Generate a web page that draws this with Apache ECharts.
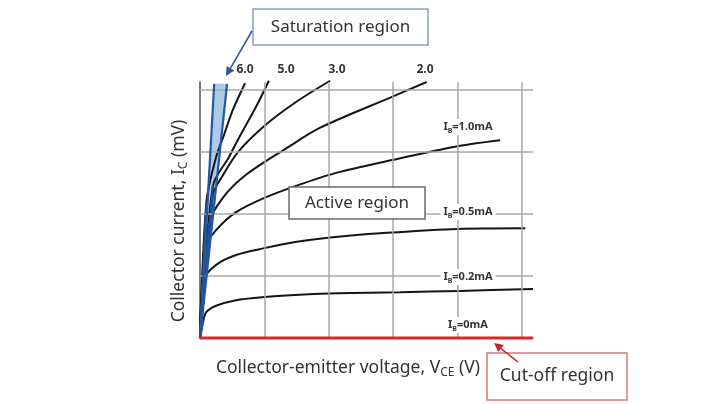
<!DOCTYPE html>
<html><head><meta charset="utf-8">
<script src="https://cdn.jsdelivr.net/npm/echarts@6/dist/echarts.min.js"></script>
<style>html,body{margin:0;padding:0;background:#fff}#c{width:720px;height:404px}</style>
</head><body><div id="c"></div>
<script>
// grid line positions (axis units)
const gridX = [1, 2, 3, 4, 5];
const gridY = [1, 2, 3, 4];
// characteristic curves (VCE, IC)
const ib02 = [[0,0],[0.05,0.28],[0.10,0.42],[0.25,0.52],[0.56,0.61],[1.00,0.66],[1.40,0.69],[2.13,0.72],[3.11,0.74],[4.04,0.76],[5.17,0.79]];
const ib05 = [[0,0],[0.06,0.94],[0.25,1.18],[0.56,1.34],[1.00,1.45],[1.48,1.55],[2.10,1.63],[2.80,1.69],[3.99,1.76],[5.05,1.77]];
const ib10 = [[0,0],[0.09,1.47],[0.25,1.74],[0.56,2.03],[1.00,2.26],[1.48,2.45],[2.10,2.66],[2.98,2.87],[4.04,3.10],[4.66,3.19]];
const ib20 = [[0,0],[0.14,1.85],[0.36,2.27],[0.71,2.63],[1.37,3.08],[1.86,3.39],[2.98,3.89],[3.52,4.13]];
const ib30 = [[0,0],[0.20,2.31],[0.34,2.60],[0.59,3.00],[1.02,3.44],[1.48,3.80],[2.02,4.15]];
const ib50 = [[0,0],[0.20,2.45],[0.45,2.92],[0.61,3.24],[0.87,3.73],[1.07,4.15]];
const ib60 = [[0,0],[0.10,2.20],[0.25,2.92],[0.36,3.24],[0.51,3.68],[0.70,4.11]];
const ib00 = [[0,0],[5.17,0]];
// saturation band edges
const bandLeft = [[0,0],[0.22,4.10]];
const bandRight = [[0,0],[0.42,4.10]];
// labels
const curveNames = ['6.0','5.0','3.0','2.0'];
const ibNames = ['=1.0mA','=0.5mA','=0.2mA','=0mA'];

const chart = echarts.init(document.getElementById('c'));
const FONT = 'Noto Sans';
const curves = [ib02, ib05, ib10, ib20, ib30, ib50, ib60];

const series = [];
series.push({
  type: 'line', data: [[0,0]], symbol: 'none', lineStyle: {width: 0}, silent: true, z: 1,
  markLine: {
    silent: true, symbol: ['none','none'], label: {show: false}, animation: false,
    lineStyle: {color: '#a8a8a8', width: 1.5, type: 'solid'},
    data: gridX.map(v => ({xAxis: v})).concat(gridY.map(v => ({yAxis: v})))
  }
});
series.push({
  type: 'custom', z: 2, silent: true, data: [0],
  renderItem: function (params, api) {
    const pts = [api.coord(bandLeft[0]), api.coord(bandLeft[1]), api.coord(bandRight[1])];
    return {type: 'polygon', shape: {points: pts}, style: {fill: 'rgba(155,194,230,0.85)'}};
  }
});
curves.forEach(c => {
  series.push({type: 'line', data: c, symbol: 'none', smooth: 0.3, clip: false,
    lineStyle: {color: '#151515', width: 2}, z: 3, silent: true});
  series.push({type: 'line', data: c.slice(0, 2), symbol: 'none', clip: false,
    lineStyle: {color: '#1f4e96', width: 2.2}, z: 4, silent: true});
});
[bandLeft, bandRight].forEach(b => series.push({type: 'line', data: b, symbol: 'none', clip: false,
  lineStyle: {color: '#24579e', width: 2.2}, z: 5, silent: true}));
series.push({type: 'line', data: ib00, symbol: 'none', clip: false,
  lineStyle: {color: '#e02424', width: 3}, z: 6, silent: true});

function ibLabel(txt, x, y) {
  return {type: 'text', x: x, y: y, z: 20, style: {
    text: '{a|I}{s|B}{a|' + txt + '}', align: 'center', verticalAlign: 'middle',
    backgroundColor: '#fff', padding: [1, 3],
    rich: {a: {fontFamily: FONT, fontWeight: 'bold', fontSize: 11, fill: '#333', lineHeight: 14},
           s: {fontFamily: FONT, fontWeight: 'bold', fontSize: 7, fill: '#333', lineHeight: 9, verticalAlign: 'bottom'}}
  }};
}
function numLabel(txt, x, y) {
  return {type: 'text', x: x, y: y, z: 20, style: {text: txt, align: 'center', verticalAlign: 'middle',
    fontFamily: FONT, fontWeight: 'bold', fontSize: 12, fill: '#333'}};
}
function box(x, y, w, h, stroke, txt, fs) {
  return [
    {type: 'rect', z: 20, shape: {x: x, y: y, width: w, height: h}, style: {fill: '#fff', stroke: stroke, lineWidth: 1.5}},
    {type: 'text', z: 21, x: x + w / 2, y: y + h / 2, style: {text: txt, align: 'center', verticalAlign: 'middle',
      fontFamily: FONT, fontSize: fs, fill: '#333'}}
  ];
}
function arrow(x1, y1, x2, y2, color) {
  const dx = x2 - x1, dy = y2 - y1, L = Math.hypot(dx, dy);
  const ux = dx / L, uy = dy / L, px = -uy, py = ux, hl = 9, hw = 4.5;
  const bx = x2 - ux * hl, by = y2 - uy * hl;
  return [
    {type: 'line', z: 22, shape: {x1: x1, y1: y1, x2: bx, y2: by}, style: {stroke: color, lineWidth: 1.5}},
    {type: 'polygon', z: 22, shape: {points: [[x2, y2], [bx + px * hw, by + py * hw], [bx - px * hw, by - py * hw]]}, style: {fill: color}}
  ];
}

const graphic = [].concat(
  numLabel(curveNames[0], 245, 70), numLabel(curveNames[1], 286, 70),
  numLabel(curveNames[2], 337, 70), numLabel(curveNames[3], 425, 70),
  ibLabel(ibNames[0], 468, 127), ibLabel(ibNames[1], 468, 212),
  ibLabel(ibNames[2], 468, 277), ibLabel(ibNames[3], 468, 325),
  box(253, 9, 175, 36, '#8aa0b8', 'Saturation region', 17),
  box(289, 187, 136, 32, '#6a6a6a', 'Active region', 17),
  box(487, 353, 140, 47, '#d77a7a', 'Cut-off region', 17.5),
  arrow(252, 31, 226, 76, '#2f5597'),
  arrow(518, 362, 494, 343, '#c0282a'),
  [{type: 'text', z: 20, x: 348, y: 368, style: {
      text: '{a|Collector-emitter voltage, V}{s|CE}{a| (V)}', align: 'center', verticalAlign: 'middle',
      rich: {a: {fontFamily: FONT, fontSize: 17.5, fill: '#333', lineHeight: 22},
             s: {fontFamily: FONT, fontSize: 12, fill: '#333', lineHeight: 14, verticalAlign: 'bottom'}}}},
   {type: 'text', z: 20, x: 179, y: 221, rotation: Math.PI / 2, style: {
      text: '{a|Collector current, I}{s|C}{a| (mV)}', align: 'center', verticalAlign: 'middle',
      rich: {a: {fontFamily: FONT, fontSize: 17.5, fill: '#333', lineHeight: 22},
             s: {fontFamily: FONT, fontSize: 12, fill: '#333', lineHeight: 14, verticalAlign: 'bottom'}}}}]
);

chart.setOption({
  animation: false,
  backgroundColor: '#fff',
  grid: {left: 200, top: 82, right: 187, bottom: 66},
  xAxis: {type: 'value', min: 0, max: 5.17, splitLine: {show: false}, axisTick: {show: false}, axisLabel: {show: false},
    axisLine: {show: true, lineStyle: {color: '#8a8a8a', width: 1.5}}},
  yAxis: {type: 'value', min: 0, max: 4.13, splitLine: {show: false}, axisTick: {show: false}, axisLabel: {show: false},
    axisLine: {show: true, lineStyle: {color: '#7a7a7a', width: 2}}},
  series: series,
  graphic: graphic
});
</script></body></html>
